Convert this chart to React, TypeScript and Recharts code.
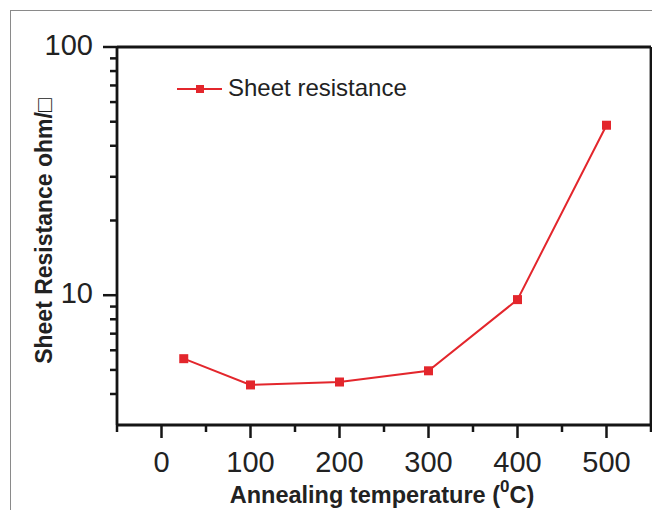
import React from "react";
import { LineChart, Line, XAxis, YAxis, Legend, Customized } from "recharts";

const temperatures = [25, 100, 200, 300, 400, 500];
const sheetResistance = [5.55, 4.35, 4.47, 4.96, 9.6, 48.4];
const xTicks = [-50, 0, 50, 100, 150, 200, 250, 300, 350, 400, 450, 500, 550];
const xMajor = [0, 100, 200, 300, 400, 500];
const yTicks = [4, 5, 6, 7, 8, 9, 10, 20, 30, 40, 50, 60, 70, 80, 90, 100];
const yMajor = [10, 100];
const seriesName = "Sheet resistance";
const xTitle = "Annealing temperature (";
const xTitleSup = "0";
const xTitleEnd = "C)";
const yTitle = "Sheet Resistance ohm/\u25A1";

const data = temperatures.map((t, i) => ({ t, r: sheetResistance[i] }));

const RED = "#e3262c";
const AX = "#151515";
const FONT = "'Liberation Sans', Arial, sans-serif";

const XTick = (props: any) => {
  const { x, y, payload } = props;
  const major = xMajor.includes(payload.value);
  return (
    <g>
      <line x1={x} x2={x} y1={y} y2={y + (major ? 13 : 7)} stroke={AX} strokeWidth={2.5} />
      {major && (
        <text x={x} y={y + 47} textAnchor="middle" fontFamily={FONT} fontSize={29} fill="#222">
          {payload.value}
        </text>
      )}
    </g>
  );
};

const YTick = (props: any) => {
  const { x, y, payload } = props;
  const major = yMajor.includes(payload.value);
  return (
    <g>
      <line x1={x - (major ? 14 : 7)} x2={x} y1={y} y2={y} stroke={AX} strokeWidth={2.5} />
      {major && (
        <text x={x - 24} y={y + 8} textAnchor="end" fontFamily={FONT} fontSize={29} fill="#222">
          {payload.value}
        </text>
      )}
    </g>
  );
};

const SquareDot = (props: any) => {
  const { cx, cy } = props;
  if (cx == null || cy == null) return null;
  return <rect x={cx - 4.5} y={cy - 4.5} width={9} height={9} fill={RED} />;
};

const LegendContent = () => (
  <svg width={260} height={32}>
    <line x1={7} x2={52} y1={15} y2={15} stroke={RED} strokeWidth={2} />
    <rect x={26} y={11} width={8} height={8} fill={RED} />
    <text x={58} y={22} fontFamily={FONT} fontSize={24} fill="#222">
      {seriesName}
    </text>
  </svg>
);

const Titles = () => (
  <g>
    <text
      x={44}
      y={223}
      transform="rotate(-90, 44, 223)"
      textAnchor="middle"
      fontFamily={FONT}
      fontWeight="bold"
      fontSize={23}
      fill="#222"
    >
      {yTitle}
    </text>
    <text x={374} y={495} textAnchor="middle" fontFamily={FONT} fontWeight="bold" fontSize={23.5} fill="#222">
      {xTitle}
      <tspan fontSize={17} dy={-11}>{xTitleSup}</tspan>
      <tspan dy={11}>{xTitleEnd}</tspan>
    </text>
  </g>
);

export default function App() {
  return (
    <div style={{ position: "relative", width: 652, height: 502 }}>
      <div
        style={{
          position: "absolute",
          left: 2,
          top: 2,
          width: 660,
          height: 510,
          borderTop: "1px solid #8a8a8a",
          borderLeft: "1px solid #8a8a8a",
          boxSizing: "border-box",
          pointerEvents: "none",
        }}
      />
      <LineChart
        width={652}
        height={502}
        data={data}
        margin={{ top: 38, right: 8, left: 108, bottom: 84 }}
      >
        <XAxis
          xAxisId="b"
          dataKey="t"
          type="number"
          domain={[-50, 550]}
          ticks={xTicks}
          allowDataOverflow
          height={1}
          tickSize={0}
          tickMargin={0}
          tickLine={false}
          axisLine={{ stroke: AX, strokeWidth: 2.8 }}
          tick={<XTick />}
          interval={0}
        />
        <XAxis
          xAxisId="t"
          orientation="top"
          dataKey="t"
          type="number"
          domain={[-50, 550]}
          allowDataOverflow
          height={1}
          tick={false}
          tickLine={false}
          axisLine={{ stroke: AX, strokeWidth: 2.8 }}
        />
        <YAxis
          yAxisId="l"
          scale="log"
          type="number"
          domain={[3, 100]}
          ticks={yTicks}
          allowDataOverflow
          width={1}
          tickSize={0}
          tickMargin={0}
          tickLine={false}
          axisLine={{ stroke: AX, strokeWidth: 2.8 }}
          tick={<YTick />}
          interval={0}
        />
        <YAxis
          yAxisId="r"
          orientation="right"
          scale="log"
          type="number"
          domain={[3, 100]}
          allowDataOverflow
          width={1}
          tick={false}
          tickLine={false}
          axisLine={{ stroke: AX, strokeWidth: 2.8 }}
        />
        <Legend
          layout="horizontal"
          verticalAlign="middle"
          align="center"
          content={<LegendContent />}
          wrapperStyle={{ position: "absolute", left: 162, top: 66, width: 260, height: 32 }}
        />
        <Line
          xAxisId="b"
          yAxisId="l"
          dataKey="r"
          name={seriesName}
          stroke={RED}
          strokeWidth={2}
          dot={<SquareDot />}
          activeDot={false}
          isAnimationActive={false}
        />
        <Customized component={<Titles />} />
      </LineChart>
    </div>
  );
}
